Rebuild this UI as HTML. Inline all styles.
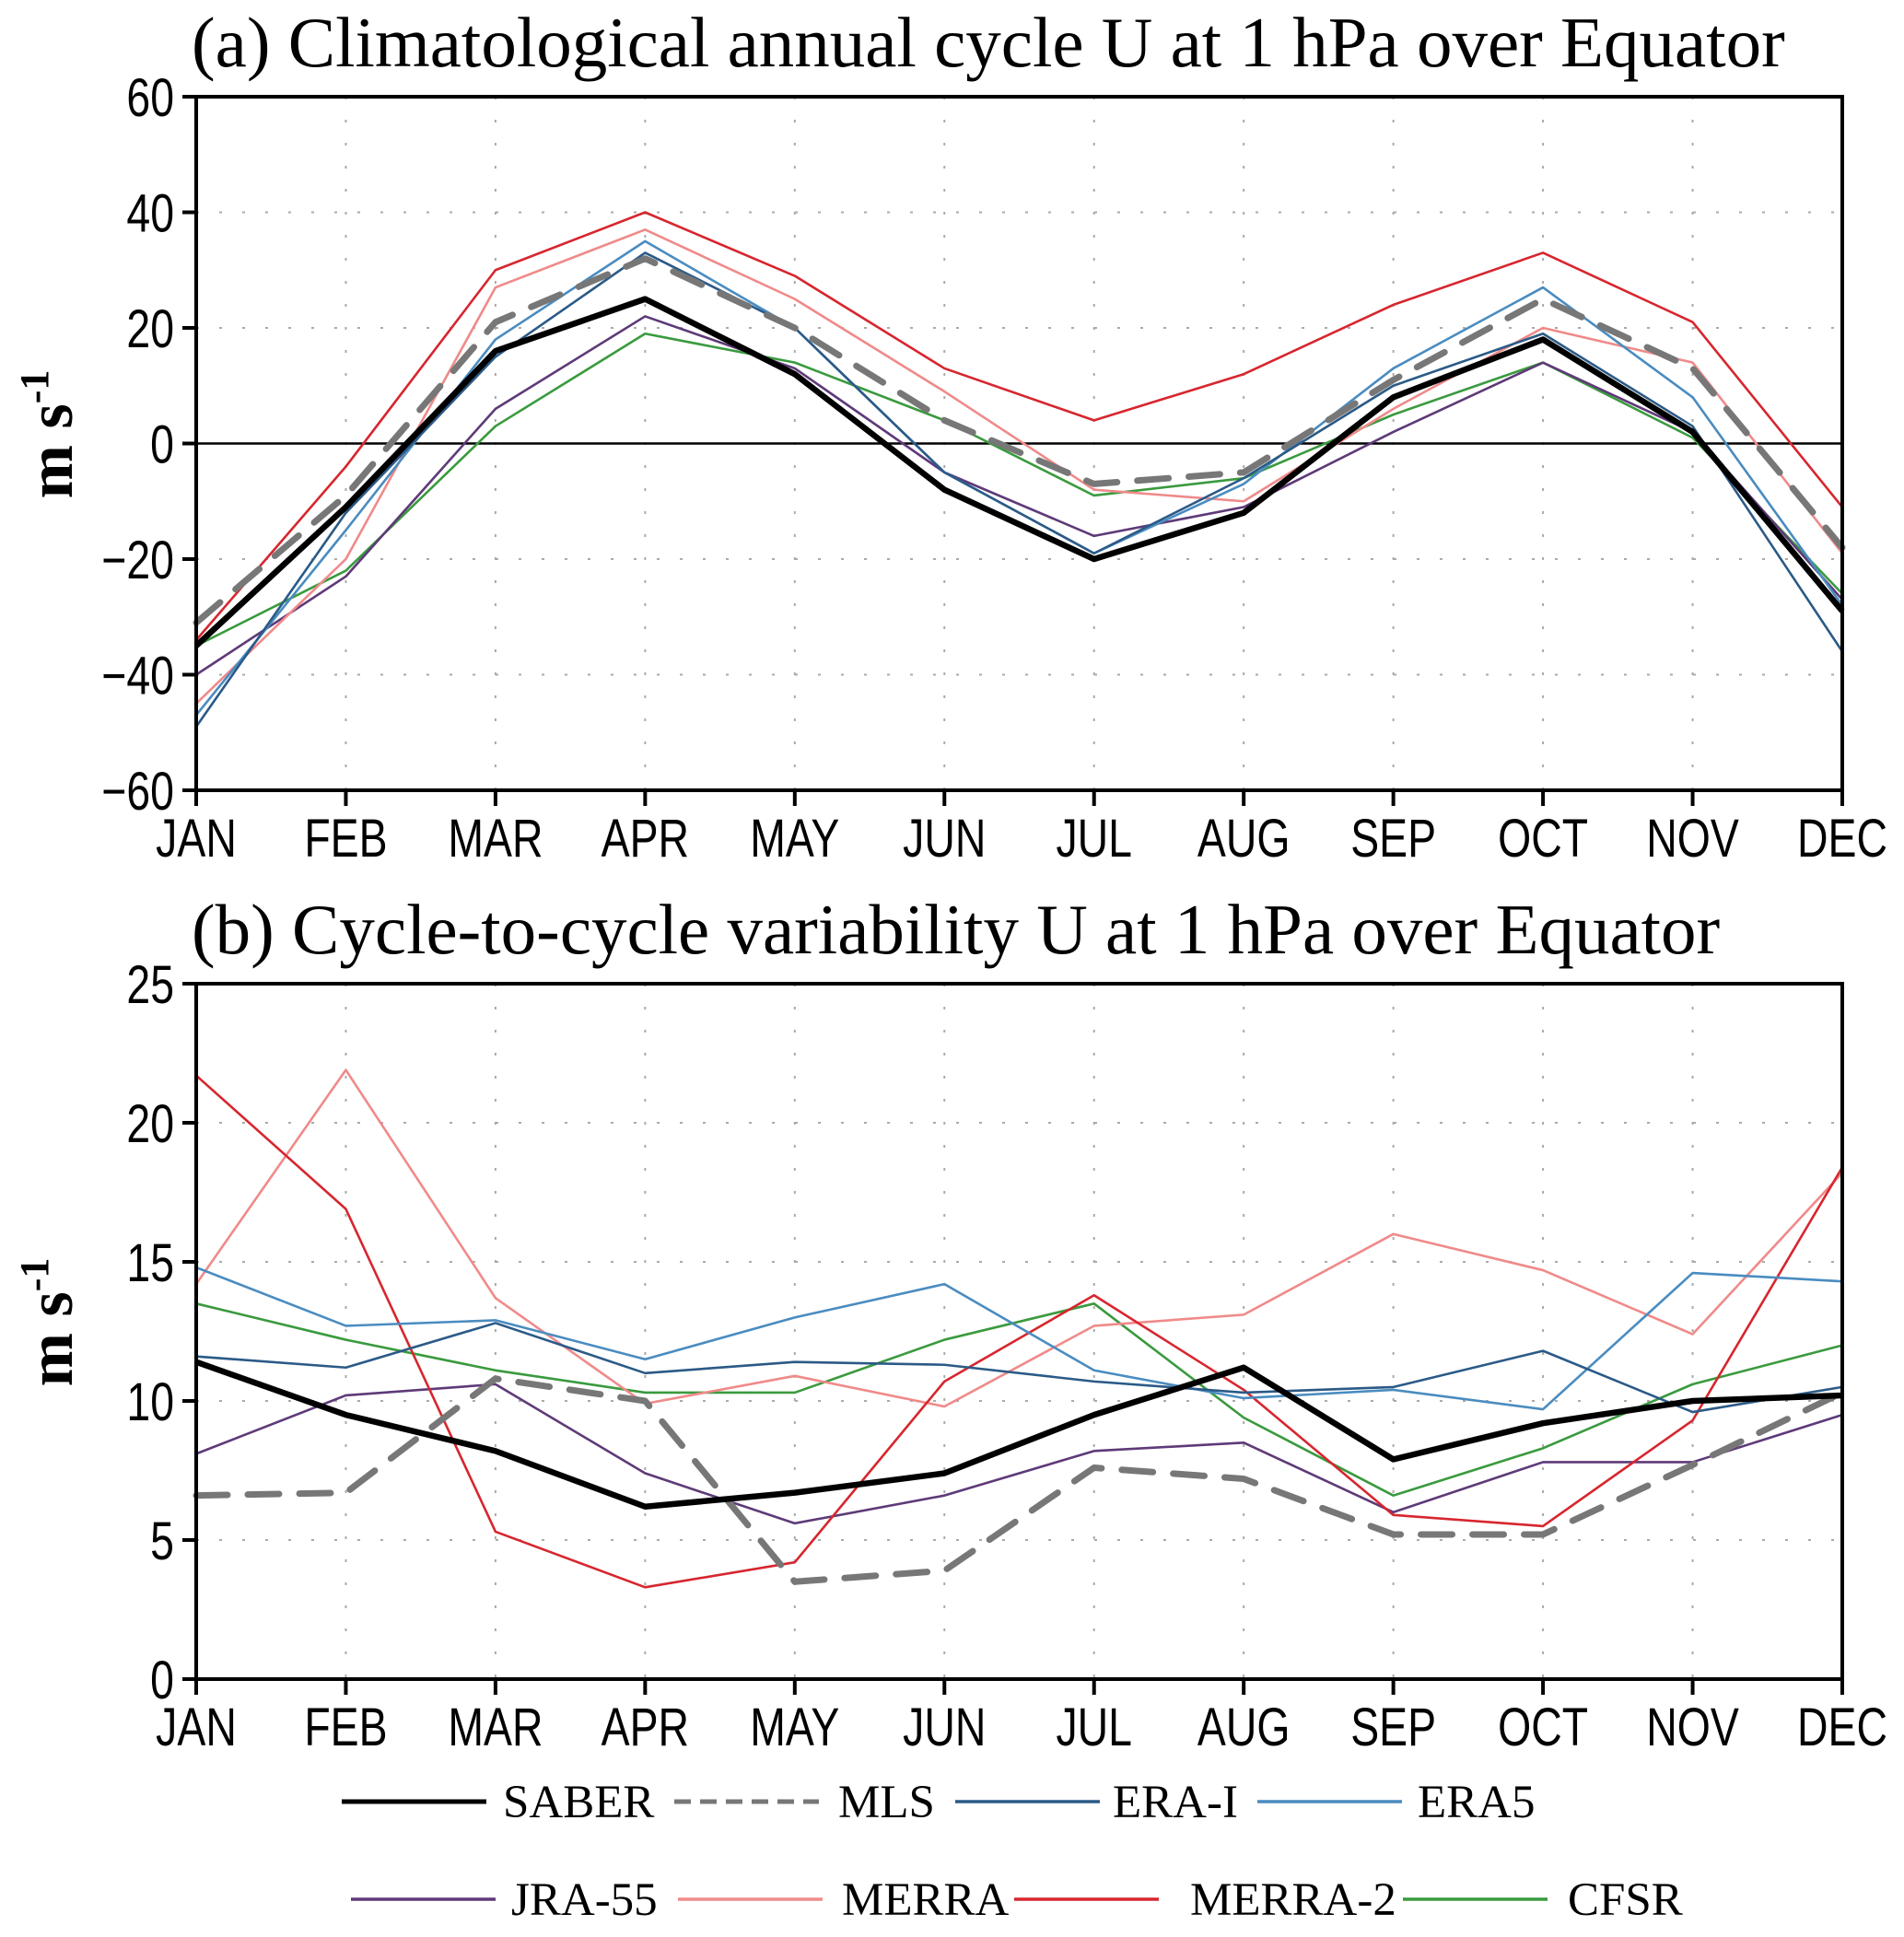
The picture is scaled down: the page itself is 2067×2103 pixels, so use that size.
<!DOCTYPE html>
<html><head><meta charset="utf-8"><style>
html,body{margin:0;padding:0;background:#fff;}
svg{display:block;}
.tick{font-family:"Liberation Sans Narrow","Liberation Sans",sans-serif;font-size:58px;fill:#000;}
.title{font-family:"Liberation Serif",serif;font-size:77px;fill:#000;}
.ylab{font-family:"Liberation Serif",serif;font-size:70px;fill:#000;font-weight:bold;}
.leg{font-family:"Liberation Serif",serif;font-size:51px;fill:#000;}
</style></head><body>
<svg id="chart" width="2067" height="2103" xmlns="http://www.w3.org/2000/svg">
<text class="title" x="208" y="72">(a) Climatological annual cycle U at 1 hPa over Equator</text>
<text class="title" x="208" y="1035">(b) Cycle-to-cycle variability U at 1 hPa over Equator</text>
<g id="pa"></g>
<g id="pb"></g>
<g id="legend"></g>
</svg>
<script>
const months=["JAN","FEB","MAR","APR","MAY","JUN","JUL","AUG","SEP","OCT","NOV","DEC"];
const seriesNames=["SABER","MLS","ERA-I","ERA5","JRA-55","MERRA","MERRA-2","CFSR"];
const a_SABER=[-35,-11,16,25,12,-8,-20,-12,8,18,2,-29];
const a_MLS=[-31,-9,21,32,20,4,-7,-5,11,25,13,-18];
const a_ERAI=[-49,-12,15,33,20,-5,-19,-6,10,19,3,-36];
const a_ERA5=[-47,-15,18,35,20,-5,-19,-7,13,27,8,-28];
const a_JRA55=[-40,-23,6,22,13,-5,-16,-11,2,14,2,-27];
const a_MERRA=[-45,-20,27,37,25,9,-8,-10,6,20,14,-19];
const a_MERRA2=[-34,-4,30,40,29,13,4,12,24,33,21,-11];
const a_CFSR=[-35,-22,3,19,14,4,-9,-6,5,14,1,-26];
const b_SABER=[11.4,9.5,8.2,6.2,6.7,7.4,9.5,11.2,7.9,9.2,10,10.2];
const b_MLS=[6.6,6.7,10.8,10,3.5,3.9,7.6,7.2,5.2,5.2,7.7,10.3];
const b_ERAI=[11.6,11.2,12.8,11,11.4,11.3,10.7,10.3,10.5,11.8,9.6,10.5];
const b_ERA5=[14.8,12.7,12.9,11.5,13,14.2,11.1,10.1,10.4,9.7,14.6,14.3];
const b_JRA55=[8.1,10.2,10.6,7.4,5.6,6.6,8.2,8.5,6,7.8,7.8,9.5];
const b_MERRA=[14.2,21.9,13.7,9.9,10.9,9.8,12.7,13.1,16,14.7,12.4,18.2];
const b_MERRA2=[21.7,16.9,5.3,3.3,4.2,10.7,13.8,10.4,5.9,5.5,9.3,18.4];
const b_CFSR=[13.5,12.2,11.1,10.3,10.3,12.2,13.5,9.4,6.6,8.3,10.6,12];
const aTicks=[-60,-40,-20,0,20,40,60];
const bTicks=[0,5,10,15,20,25];

const NS="http://www.w3.org/2000/svg";
const styles={"SABER":{c:"#000",w:6.5,d:""},"MLS":{c:"#777",w:7,d:"34,22"},"ERA-I":{c:"#2b5a87",w:2.6,d:""},"ERA5":{c:"#4a8cc0",w:2.6,d:""},"JRA-55":{c:"#5e3a78",w:2.6,d:""},"MERRA":{c:"#f08a8a",w:2.6,d:""},"MERRA-2":{c:"#d7262e",w:2.6,d:""},"CFSR":{c:"#3a9a3e",w:2.6,d:""}};
function mk(p,t,at){const e=document.createElementNS(NS,t);for(const k in at)e.setAttribute(k,at[k]);p.appendChild(e);return e;}
const L=213,R=2000;
function xs(i){return L+i*(R-L)/11;}
function panel(g,top,bot,ymin,ymax,ticks,data,key,zero){
  const ys=v=>bot-(v-ymin)/(ymax-ymin)*(bot-top);
  for(let i=1;i<11;i++){const l=mk(g,"line",{x1:xs(i),x2:xs(i),y1:top,y2:bot,stroke:"#aaa","stroke-width":2,"stroke-dasharray":"3,22"});}
  ticks.forEach(t=>{const y=ys(t);
    if(t!==ymin&&t!==ymax){const l=mk(g,"line",{x1:L,x2:R,y1:y,y2:y,stroke:"#aaa","stroke-width":2,"stroke-dasharray":"3,22"});}
    mk(g,"line",{x1:L-15,x2:L,y1:y,y2:y,stroke:"#000","stroke-width":4});
    const tx=mk(g,"text",{x:0,y:0,"text-anchor":"end",class:"tick",transform:`translate(${L-24},${y+21}) scale(0.8,1)`});tx.textContent=(t<0?"\u2212":"")+Math.abs(t);
    });
  if(zero){const z=mk(g,"line",{x1:L,x2:R,y1:ys(0),y2:ys(0),stroke:"#000","stroke-width":2.5});}
  months.forEach((m,i)=>{mk(g,"line",{x1:xs(i),x2:xs(i),y1:bot,y2:bot+17,stroke:"#000","stroke-width":4});
    const tx=mk(g,"text",{x:0,y:0,"text-anchor":"middle",class:"tick",transform:`translate(${xs(i)},${bot+72}) scale(0.8,1)`});tx.textContent=m;
    });
  const order=["CFSR","JRA-55","MERRA","MERRA-2","ERA5","ERA-I","MLS","SABER"];
  order.forEach(n=>{const s=styles[n];const d=data[seriesNames.indexOf(n)];
    const p=mk(g,"polyline",{points:d.map((v,i)=>xs(i)+","+ys(v)).join(" "),fill:"none",stroke:s.c,"stroke-width":s.w,"stroke-linejoin":"round","stroke-linecap":s.d?"round":"butt"});
    if(s.d)p.setAttribute("stroke-dasharray",s.d);
    
    });
  const fr=mk(g,"rect",{x:L,y:top,width:R-L,height:bot-top,fill:"none",stroke:"#000","stroke-width":4});
  
  const yl=mk(g,"text",{x:0,y:0,class:"ylab",transform:`translate(78,${(top+bot)/2-10}) rotate(-90)`,"text-anchor":"middle"});
  yl.innerHTML='m s<tspan dy="-26" font-size="44">-1</tspan>';
  
}
panel(document.getElementById("pa"),105,858,-60,60,aTicks,[a_SABER,a_MLS,a_ERAI,a_ERA5,a_JRA55,a_MERRA,a_MERRA2,a_CFSR],"a",true);
panel(document.getElementById("pb"),1068,1823,0,25,bTicks,[b_SABER,b_MLS,b_ERAI,b_ERA5,b_JRA55,b_MERRA,b_MERRA2,b_CFSR],"b",false);
const lg=document.getElementById("legend");
const legPos=[[371,1956,546],[732,1956,910],[1037,1956,1208],[1365,1956,1539],[381,2062,555],[736,2062,914],[1101,2062,1292],[1523,2062,1702]];
seriesNames.forEach((n,i)=>{const s=styles[n];const [x1,y,tx]=legPos[i];
  const g=mk(lg,"g",{});
  
  
  const l=mk(g,"line",{x1:x1,x2:x1+157,y1:y,y2:y,stroke:s.c,"stroke-width":s.w>3?5:3.5});
  if(s.d)l.setAttribute("stroke-dasharray","18,10");
  const t=mk(g,"text",{x:tx,y:y+17,class:"leg"});t.textContent=n;});
</script>
</body></html>
